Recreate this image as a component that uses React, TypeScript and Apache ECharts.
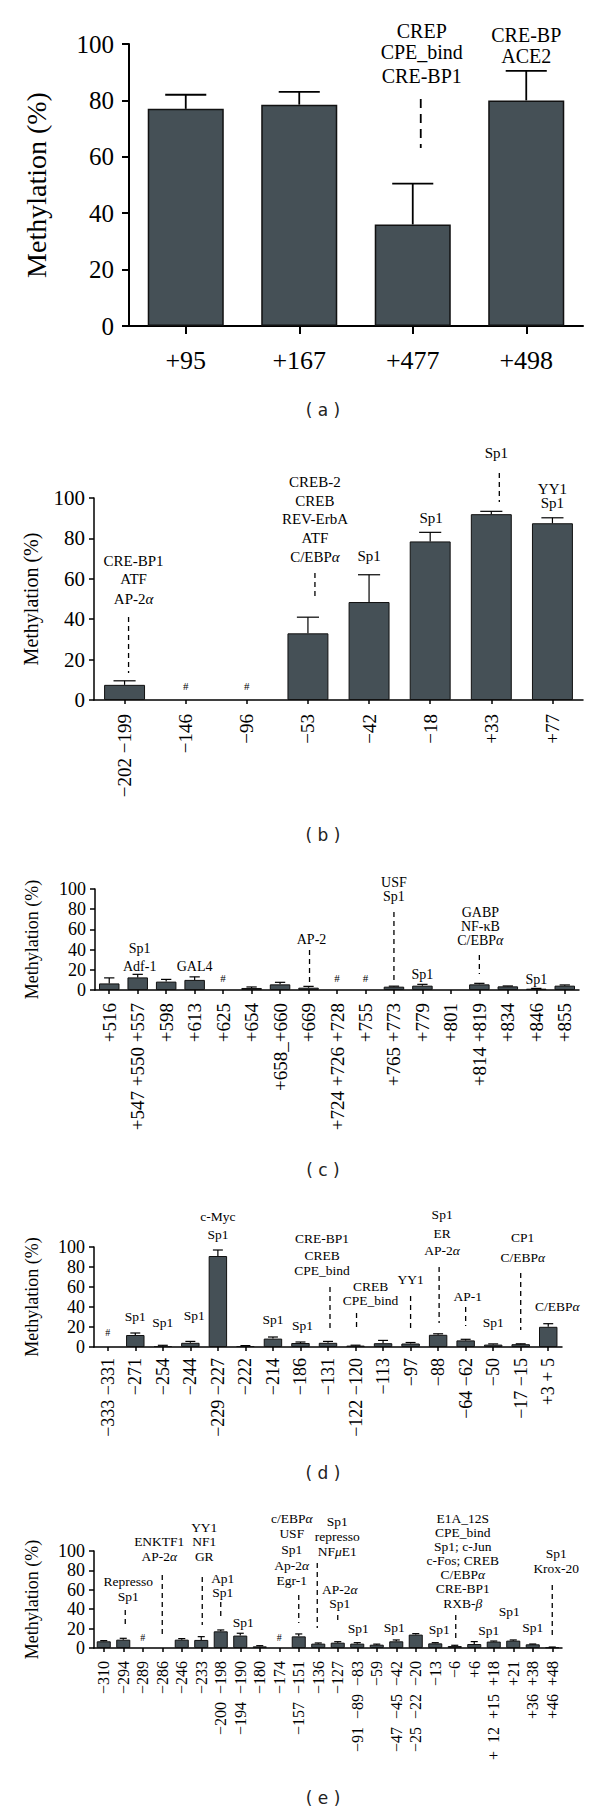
import React, { useEffect, useRef } from "react";
import * as echarts from "echarts";

// ---------- DATA ----------
const catsA = ["+95", "+167", "+477", "+498"];
const valsA = [77, 78.5, 36, 80];
const errA = [82, 83, 50.5, 90.5];

const catsB = ["−202 −199", "−146", "−96", "−53", "−42", "−18", "+33", "+77"];
const valsB = [7.5, null, null, 33, 48.5, 78.5, 92, 87.5];
const errB = [9.5, null, null, 41, 62, 83, 93.4, 90.2];

const catsC = ["+516", "+547 +550 +557", "+598", "+613", "+625", "+654", "+658_+660", "+669", "+724 +726 +728", "+755", "+765 +773", "+779", "+801", "+814 +819", "+834", "+846", "+855"];
const valsC = [6.5, 12.5, 8.3, 10, null, 2, 5.6, 2.3, null, null, 3.3, 4.3, null, 5.6, 3.6, 1.3, 4.3];
const errC = [12, 15.5, 10.5, 13, null, 3, 7.6, 3.6, null, null, 3.8, 5.6, null, 6.6, 4, 1.6, 5];

const catsD = ["−333 −331", "−271", "−254", "−244", "−229 −227", "−222", "−214", "−186", "−131", "−122 −120", "−113", "−97", "−88", "−64 −62", "−50", "−17 −15", "+3 + 5"];
const valsD = [null, 12, 1, 4.2, 91, 1, 8.4, 4, 4.2, 1.4, 3.8, 3.5, 12.2, 6.6, 2.4, 2.8, 20.2];
const errD = [null, 14, 1.7, 5.6, 97, 1.4, 10, 5, 5.6, 1.8, 6.6, 4.5, 13.2, 7.7, 3.1, 3.2, 23.3];

const catsE = ["−310", "−294", "−289", "−286", "−246", "−233", "−200 −198", "−194 −190", "−180", "−174", "−157 −151", "−136", "−127", "−91 −89 −83", "−59", "−47 −45 −42", "−25 −22 −20", "−13", "−6", "+6", "+ 12 +15 +18", "+21", "+36 +38", "+46 +48"];
const valsE = [6.9, 8.6, null, null, 8.6, 8.3, 17.2, 12.8, 1.7, null, 12, 4.5, 5.5, 4.5, 3.4, 6.9, 13.8, 4.8, 2, 4.1, 6.6, 7.6, 3.8, 0.7];
const errE = [7.6, 10, null, null, 9.7, 11.7, 18.6, 15.2, 2.4, null, 14.5, 5.2, 6.5, 5.5, 4, 8.3, 14.8, 5.5, 2.8, 6.6, 7.2, 8.3, 4.1, 1];

const yTitle = "Methylation (%)";
const panelLabels = ["( a )", "( b )", "( c )", "( d )", "( e )"];

// ---------- ANNOTATIONS (text of binding sites) ----------
type Annot = { i: number; lines: string[]; ys: number[]; dx?: number; dash?: [number, number]; ddx?: number };

const annA: Annot[] = [
  { i: 2, lines: ["CREP", "CPE_bind", "CRE-BP1"], ys: [31, 52, 76], dx: 9, dash: [99, 148], ddx: 8 },
  { i: 3, lines: ["CRE-BP", "ACE2"], ys: [35, 56], dx: 0 },
];
const annB: Annot[] = [
  { i: 0, lines: ["CRE-BP1", "ATF", "AP-2α"], ys: [561, 579, 599], dx: 9, dash: [617, 673], ddx: 4 },
  { i: 1, lines: ["#"], ys: [686] },
  { i: 2, lines: ["#"], ys: [686] },
  { i: 3, lines: ["CREB-2", "CREB", "REV-ErbA", "ATF", "C/EBPα"], ys: [482, 501, 519, 538, 557], dx: 7, dash: [573, 597], ddx: 7 },
  { i: 4, lines: ["Sp1"], ys: [556] },
  { i: 5, lines: ["Sp1"], ys: [518], dx: 1 },
  { i: 6, lines: ["Sp1"], ys: [453], dx: 5, dash: [473, 502], ddx: 8 },
  { i: 7, lines: ["YY1", "Sp1"], ys: [489, 503] },
];
const annC: Annot[] = [
  { i: 1, lines: ["Sp1", "Adf-1"], ys: [948, 966], dx: 2 },
  { i: 3, lines: ["GAL4"], ys: [966] },
  { i: 4, lines: ["#"], ys: [978] },
  { i: 7, lines: ["AP-2"], ys: [939], dx: 3, dash: [950, 987], ddx: 1 },
  { i: 8, lines: ["#"], ys: [978] },
  { i: 9, lines: ["#"], ys: [978] },
  { i: 10, lines: ["USF", "Sp1"], ys: [882, 896], dash: [912, 980] },
  { i: 11, lines: ["Sp1"], ys: [974] },
  { i: 13, lines: ["GABP", "NF-κB", "C/EBPα"], ys: [912, 926, 940], dx: 1, dash: [955, 974] },
  { i: 15, lines: ["Sp1"], ys: [979] },
];
const annD: Annot[] = [
  { i: 0, lines: ["#"], ys: [1332] },
  { i: 1, lines: ["Sp1"], ys: [1316] },
  { i: 2, lines: ["Sp1"], ys: [1322] },
  { i: 3, lines: ["Sp1"], ys: [1315], dx: 4 },
  { i: 4, lines: ["c-Myc", "Sp1"], ys: [1216, 1234] },
  { i: 6, lines: ["Sp1"], ys: [1319] },
  { i: 7, lines: ["Sp1"], ys: [1325], dx: 2 },
  { i: 8, lines: ["CRE-BP1", "CREB", "CPE_bind"], ys: [1238, 1255, 1270], dx: -6, dash: [1287, 1330], ddx: 2 },
  { i: 9, lines: ["CREB", "CPE_bind"], ys: [1286, 1300], dx: 15, dash: [1313, 1330], ddx: 1 },
  { i: 11, lines: ["YY1"], ys: [1279], dash: [1296, 1328] },
  { i: 12, lines: ["Sp1", "ER", "AP-2α"], ys: [1214, 1233, 1250], dx: 4, dash: [1267, 1323], ddx: 1 },
  { i: 13, lines: ["AP-1"], ys: [1296], dx: 2, dash: [1307, 1326] },
  { i: 14, lines: ["Sp1"], ys: [1322] },
  { i: 15, lines: ["CP1", "C/EBPα"], ys: [1237, 1257], dx: 2, dash: [1273, 1330] },
  { i: 16, lines: ["C/EBPα"], ys: [1306], dx: 9 },
];
const annE: Annot[] = [
  { i: 1, lines: ["Represso", "Sp1"], ys: [1581, 1596], dx: 5, dash: [1610, 1625], ddx: 2 },
  { i: 2, lines: ["#"], ys: [1637] },
  { i: 3, lines: ["ENKTF1", "AP-2α"], ys: [1541, 1556], dx: -3, dash: [1575, 1635] },
  { i: 5, lines: ["YY1", "NF1", "GR"], ys: [1527, 1541, 1556], dx: 3, dash: [1577, 1625], ddx: 1 },
  { i: 6, lines: ["Ap1", "Sp1"], ys: [1578, 1592], dx: 2, dash: [1602, 1618] },
  { i: 7, lines: ["Sp1"], ys: [1622], dx: 3 },
  { i: 9, lines: ["#"], ys: [1637] },
  { i: 10, lines: ["c/EBPα", "USF", "Sp1", "Ap-2α", "Egr-1"], ys: [1518, 1533, 1549, 1565, 1580], dx: -7, dash: [1595, 1623] },
  { i: 11, lines: ["Sp1", "represso", "NFμE1"], ys: [1521, 1536, 1551], dx: 19, dash: [1563, 1628], ddx: -1 },
  { i: 12, lines: ["AP-2α", "Sp1"], ys: [1589, 1603], dx: 2, dash: [1615, 1623] },
  { i: 13, lines: ["Sp1"], ys: [1628], dx: 1 },
  { i: 15, lines: ["Sp1"], ys: [1627], dx: -2 },
  { i: 17, lines: ["Sp1"], ys: [1629], dx: 4 },
  { i: 18, lines: ["E1A_12S", "CPE_bind", "Sp1; c-Jun", "c-Fos; CREB", "C/EBPα", "CRE-BP1", "RXB-β"], ys: [1518, 1532, 1546, 1560, 1574, 1588, 1603], dx: 8, dash: [1615, 1640], ddx: 1 },
  { i: 20, lines: ["Sp1"], ys: [1630], dx: -5 },
  { i: 21, lines: ["Sp1"], ys: [1611], dx: -4 },
  { i: 22, lines: ["Sp1"], ys: [1627] },
  { i: 23, lines: ["Sp1", "Krox-20"], ys: [1553, 1568], dx: 4, dash: [1585, 1635] },
];

// ---------- LAYOUT ----------
const SERIF = "'Liberation Serif', 'DejaVu Serif', 'Times New Roman', serif";
const SANS = "'DejaVu Sans', Verdana, sans-serif";
const BAR_COLOR = "#455056";

type Panel = {
  cats: string[]; vals: (number | null)[]; errs: (number | null)[]; ann: Annot[];
  grid: { left: number; top: number; width: number; height: number };
  tickFont: number; xFont: number; titleFont: number; annFont: number;
  rotate: number; xMargin: number; yMargin: number; barWidth: string;
  titleX: number; labelY: number; lineW: number; yTick: number; xTick: number; sep: string;
};

const panels: Panel[] = [
  { cats: catsA, vals: valsA, errs: errA, ann: annA, grid: { left: 129, top: 44, width: 454, height: 282 },
    tickFont: 25, xFont: 26, titleFont: 28, annFont: 20, rotate: 0, xMargin: 21, yMargin: 15, barWidth: "67%",
    titleX: 36, labelY: 410, lineW: 2, yTick: 7, xTick: 8, sep: " " },
  { cats: catsB, vals: valsB, errs: errB, ann: annB, grid: { left: 94, top: 498, width: 489, height: 202 },
    tickFont: 21, xFont: 19, titleFont: 20, annFont: 15, rotate: 90, xMargin: 14, yMargin: 9, barWidth: "67%",
    titleX: 31, labelY: 835, lineW: 1.5, yTick: 5, xTick: 4, sep: " " },
  { cats: catsC, vals: valsC, errs: errC, ann: annC, grid: { left: 95, top: 889, width: 484, height: 101 },
    tickFont: 18, xFont: 19, titleFont: 18, annFont: 14, rotate: 90, xMargin: 13, yMargin: 9, barWidth: "72%",
    titleX: 32, labelY: 1170, lineW: 1.5, yTick: 5, xTick: 4, sep: " " },
  { cats: catsD, vals: valsD, errs: errD, ann: annD, grid: { left: 94, top: 1247, width: 468, height: 100 },
    tickFont: 18, xFont: 18, titleFont: 18, annFont: 13.5, rotate: 90, xMargin: 11, yMargin: 9, barWidth: "67%",
    titleX: 32, labelY: 1473, lineW: 1.5, yTick: 5, xTick: 4, sep: " " },
  { cats: catsE, vals: valsE, errs: errE, ann: annE, grid: { left: 94, top: 1551, width: 468, height: 97 },
    tickFont: 18, xFont: 16, titleFont: 18, annFont: 13.5, rotate: 90, xMargin: 13, yMargin: 9, barWidth: "72%",
    titleX: 32, labelY: 1798, lineW: 1.5, yTick: 5, xTick: 4, sep: "\u00A0\u00A0" },
];

function buildOption(): any {
  const series: any[] = [];
  panels.forEach((p, k) => {
    series.push({
      type: "bar", xAxisIndex: k, yAxisIndex: k, data: p.vals, barWidth: p.barWidth,
      itemStyle: { color: BAR_COLOR, borderColor: "#111", borderWidth: k === 0 ? 1.5 : 1 },
      z: 2,
    });
    const errData: number[][] = [];
    p.errs.forEach((e, i) => {
      if (e != null && p.vals[i] != null) errData.push([i, p.vals[i] as number, e]);
    });
    const lw = k === 0 ? 1.8 : 1.2;
    series.push({
      type: "custom", xAxisIndex: k, yAxisIndex: k, data: errData, z: 3,
      renderItem: (params: any, api: any) => {
        const base = api.coord([api.value(0), api.value(1)]);
        const top = api.coord([api.value(0), api.value(2)]);
        const band = api.size([1, 0])[0];
        const half = band * 0.67 * 0.27;
        return {
          type: "group",
          children: [
            { type: "line", shape: { x1: base[0], y1: base[1], x2: base[0], y2: top[1] }, style: { stroke: "#000", lineWidth: lw } },
            { type: "line", shape: { x1: base[0] - half, y1: top[1], x2: base[0] + half, y2: top[1] }, style: { stroke: "#000", lineWidth: lw } },
          ],
        };
      },
    });
  });

  return {
    animation: false,
    backgroundColor: "#fff",
    grid: panels.map((p) => ({ ...p.grid, containLabel: false })),
    xAxis: panels.map((p, k) => ({
      type: "category", gridIndex: k, data: p.cats,
      axisLine: { show: true, lineStyle: { color: "#000", width: p.lineW } },
      axisTick: { show: true, alignWithLabel: true, length: p.xTick, lineStyle: { color: "#000", width: p.lineW } },
      axisLabel: {
        interval: 0, rotate: p.rotate, margin: p.xMargin, color: "#000",
        fontFamily: SERIF, fontSize: p.xFont,
        formatter: (v: string) => v.split(" ").join(p.sep),
      },
    })),
    yAxis: panels.map((p, k) => ({
      type: "value", gridIndex: k, min: 0, max: 100, interval: 20,
      splitLine: { show: false },
      axisLine: { show: true, lineStyle: { color: "#000", width: p.lineW } },
      axisTick: { show: true, length: p.yTick, lineStyle: { color: "#000", width: p.lineW } },
      axisLabel: { margin: p.yMargin, color: "#000", fontFamily: SERIF, fontSize: p.tickFont },
    })),
    series,
  };
}

// italicise Greek letters as in the reference
function richify(t: string): string {
  return t.replace(/([αβμ])/g, "{it|$1}");
}

function buildGraphics(chart: any): any[] {
  const els: any[] = [];
  panels.forEach((p, k) => {
    els.push({
      type: "text", x: p.titleX, y: p.grid.top + p.grid.height / 2, rotation: Math.PI / 2,
      style: { text: yTitle, fontFamily: SERIF, fontSize: p.titleFont, fill: "#000", align: "center", verticalAlign: "middle", textAlign: "center", textVerticalAlign: "middle" },
    });
    els.push({
      type: "text", x: 323, y: p.labelY,
      style: { text: panelLabels[k], fontFamily: SANS, fontSize: 17, fill: "#222", align: "center", verticalAlign: "middle", textAlign: "center", textVerticalAlign: "middle" },
    });
    p.ann.forEach((a) => {
      const cx = chart.convertToPixel({ xAxisIndex: k }, a.i) as number;
      a.lines.forEach((t, j) => {
        const isHash = t === "#";
        const fs = isHash ? Math.round(p.annFont * 0.75) : p.annFont;
        els.push({
          type: "text", x: cx + (a.dx || 0), y: a.ys[j],
          style: {
            text: richify(t), fontFamily: SERIF, fontSize: fs, fill: "#000",
            rich: { it: { fontStyle: "italic", fontFamily: SERIF, fontSize: fs, fill: "#000" } },
            align: "center", verticalAlign: "middle", textAlign: "center", textVerticalAlign: "middle",
          },
        });
      });
      if (a.dash) {
        const x = cx + (a.ddx || 0);
        els.push({
          type: "line", shape: { x1: x, y1: a.dash[0], x2: x, y2: a.dash[1] },
          style: { stroke: "#000", lineWidth: k === 0 ? 1.8 : 1.3, lineDash: k === 0 ? [9, 6] : [5, 4] },
        });
      }
    });
  });
  return els;
}

export default function App() {
  const ref = useRef<HTMLDivElement>(null);
  useEffect(() => {
    document.body.style.margin = "0";
    if (!ref.current) return;
    const chart = echarts.init(ref.current, undefined, { renderer: "svg" });
    chart.setOption(buildOption());
    chart.setOption({ graphic: { elements: buildGraphics(chart) } });
    return () => chart.dispose();
  }, []);
  return <div ref={ref} style={{ width: 600, height: 1813, background: "#fff" }} />;
}
